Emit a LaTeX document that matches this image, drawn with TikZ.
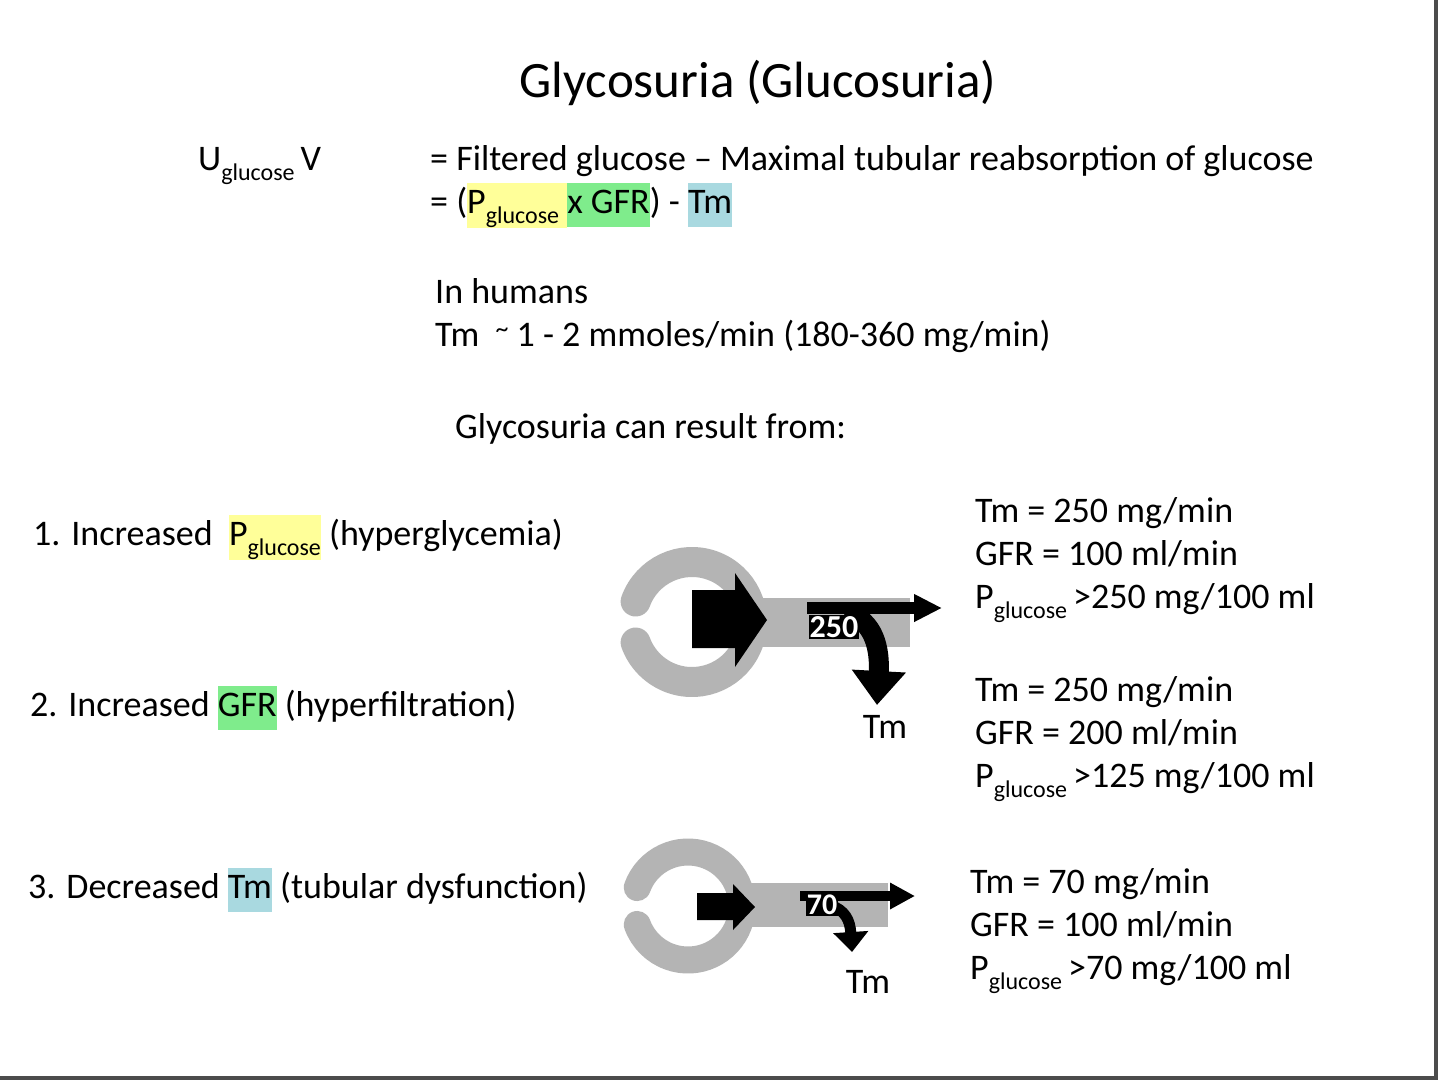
\documentclass[tikz,border=0pt]{standalone}
\usepackage{fontspec}
\setmainfont{Carlito}
\usetikzlibrary{arrows.meta}
\definecolor{hy}{HTML}{FFFF99}
\definecolor{hg}{HTML}{7FEC8C}
\definecolor{hb}{HTML}{A9D9E0}
\definecolor{ring}{HTML}{B4B4B4}
\newcommand\sbx[1]{\raisebox{-0.3em}{\fontsize{24}{24}\selectfont #1}}
\newcommand\hlb[2]{{\setlength{\fboxsep}{0pt}\colorbox{#1}{\rule[-0.38em]{0pt}{1.2em}#2}}}
\tikzset{txt/.style={anchor=base west,inner sep=0pt,font=\fontsize{36}{40}\selectfont},
 ringst/.style={draw=ring,line cap=round},
 tube/.style={fill=ring,draw=none},
 bigarr/.style={fill=black,draw=none},
 num/.style={fill=black,text=white,inner sep=1pt,font=\bfseries\fontsize{32}{32}\selectfont}}
\begin{document}
\begin{tikzpicture}[x=1pt,y=-1pt]
\useasboundingbox (0,0) rectangle (1440,1080);
\fill[white] (0,0) rectangle (1440,1080);
\draw[line width=4,black!70] (1436,0) -- (1436,1078) -- (0,1078);
\node[anchor=base,inner sep=0pt,font=\fontsize{51}{56}\selectfont] (title) at (758,97) {Glycosuria (Glucosuria)};
\node[txt] (uv) at (198,170) {U\sbx{glucose}\,V};
\node[txt] (f1) at (430,170) {= Filtered glucose -- Maximal tubular reabsorption of glucose};
\node[txt] (f2) at (430,213) {= (\hlb{hy}{P\sbx{glucose} }\hlb{hg}{x GFR}) - \hlb{hb}{Tm}};
\node[txt] (h1) at (435,303) {In humans};
\node[txt] (h2) at (435,346) {Tm\ \ \raisebox{0.25em}{\fontsize{26}{26}\selectfont\textasciitilde} 1 - 2 mmoles/min (180-360 mg/min)};
\node[txt] (res) at (455,438) {Glycosuria can result from:};
\node[txt] (i1) at (33,545) {1. Increased \ \hlb{hy}{P\sbx{glucose}} (hyperglycemia)};
\node[txt] (i2) at (30,716) {2. Increased \hlb{hg}{GFR} (hyperfiltration)};
\node[txt] (i3) at (28,898) {3. Decreased \hlb{hb}{Tm} (tubular dysfunction)};
\node[txt] (a1) at (975,522) {Tm = 250 mg/min};
\node[txt] (a2) at (975,565) {GFR = 100 ml/min};
\node[txt] (a3) at (975,608) {P\sbx{glucose}\,>250 mg/100 ml};
\node[txt] (b1) at (975,701) {Tm = 250 mg/min};
\node[txt] (b2) at (975,744) {GFR = 200 ml/min};
\node[txt] (b3) at (975,787) {P\sbx{glucose}\,>125 mg/100 ml};
\node[txt] (c1) at (970,893) {Tm = 70 mg/min};
\node[txt] (c2) at (970,936) {GFR = 100 ml/min};
\node[txt] (c3) at (970,979) {P\sbx{glucose}\,>70 mg/100 ml};
% icon 1
\draw[ringst,line width=30] (692,622) ++(200:60) arc[start angle=200,end angle=520,radius=60];
\fill[tube] (745,598) rectangle (910,647);
\fill[bigarr] (692,590) -- (735,590) -- (735,573) -- (767,620) -- (735,667) -- (735,648) -- (692,648) -- cycle;
\coordinate (s1) at (807,608);
\coordinate (e1) at (942,608);
\draw[line width=12,-{Triangle[width=26pt,length=28pt]}] (s1) -- (e1);
\coordinate (cs1) at (845,612);
\coordinate (ce1) at (877,705);
\draw[line width=20,-{Triangle[width=52pt,length=34pt]}] (cs1) .. controls (875,620) and (880,650) .. (ce1);
\node[num] (n1) at (834,627) {250};
\node[txt,anchor=base] (t1) at (885,738) {Tm};
% icon 2
\draw[ringst,line width=27] (688,906) ++(200:54) arc[start angle=200,end angle=520,radius=54];
\fill[tube] (740,883) rectangle (888,927);
\fill[bigarr] (697,893) -- (733,893) -- (733,884) -- (755,907) -- (733,930) -- (733,920) -- (697,920) -- cycle;
\coordinate (s2) at (800,896);
\coordinate (e2) at (915,896);
\draw[line width=10,-{Triangle[width=25pt,length=25pt]}] (s2) -- (e2);
\coordinate (cs2) at (830,905);
\coordinate (ce2) at (852,952);
\draw[line width=11,-{Triangle[width=34pt,length=20pt]}] (cs2) .. controls (845,910) and (850,920) .. (ce2);
\node[num,font=\bfseries\fontsize{30}{30}\selectfont] (n2) at (822,905) {70};
\node[txt,anchor=base] (t2) at (868,993) {Tm};
\end{tikzpicture}
\end{document}
